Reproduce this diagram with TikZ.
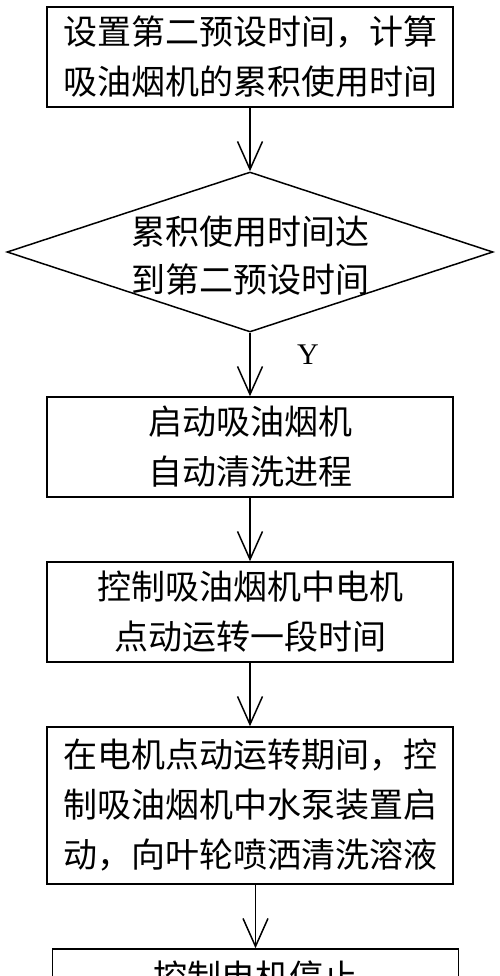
\documentclass[tikz,border=0pt]{standalone}
\usepackage{fontspec}
\newfontfamily\cjk{Noto Sans CJK SC}
\setmainfont{Liberation Serif}
\usetikzlibrary{shapes.geometric,arrows.meta}
\tikzset{
  box/.style={draw, line width=1.5pt, minimum width=406pt, inner sep=0pt, align=center,
              font=\cjk\fontsize{34}{50}\selectfont},
  flow/.style={line width=1.5pt, -{Straight Barb[length=28pt,width=25pt,line width=1.5pt]}},
}
\begin{document}
\begin{tikzpicture}[x=1pt,y=-1pt]
\useasboundingbox (0,0) rectangle (500,976);
\clip (0,0) rectangle (500,976);
\fill[white] (0,0) rectangle (500,976);
\node[box, minimum height=100pt] (b1) at (250,57) {设置第二预设时间，计算\\吸油烟机的累积使用时间};
\node[draw, diamond, line width=1.5pt, aspect=3.04, minimum width=486pt, minimum height=160pt, inner sep=0pt] (dec) at (250,252) {};
\node[align=center, font=\cjk\fontsize{34}{48}\selectfont] (dect) at (250,256) {累积使用时间达\\到第二预设时间};
\node[box, minimum height=100pt] (b2) at (250,447) {启动吸油烟机\\自动清洗进程};
\node[box, minimum height=100pt] (b3) at (250,612) {控制吸油烟机中电机\\点动运转一段时间};
\node[box, minimum height=157pt] (b4) at (250,805.5) {在电机点动运转期间，控\\制吸油烟机中水泵装置启\\动，向叶轮喷洒清洗溶液};
\node[box, minimum height=54pt] (b5) at (255.5,976) {控制电机停止};
\node[font=\fontsize{30}{30}\selectfont] (y) at (308,355) {Y};
\draw[flow] (b1.south) -- (dec.north);
\draw[flow] (dec.south) -- (b2.north);
\draw[flow] (b2.south) -- (b3.north);
\draw[flow] (b3.south) -- (b4.north);
\draw[flow] ([xshift=5.5pt]b4.south) -- (b5.north);
\end{tikzpicture}
\end{document}
